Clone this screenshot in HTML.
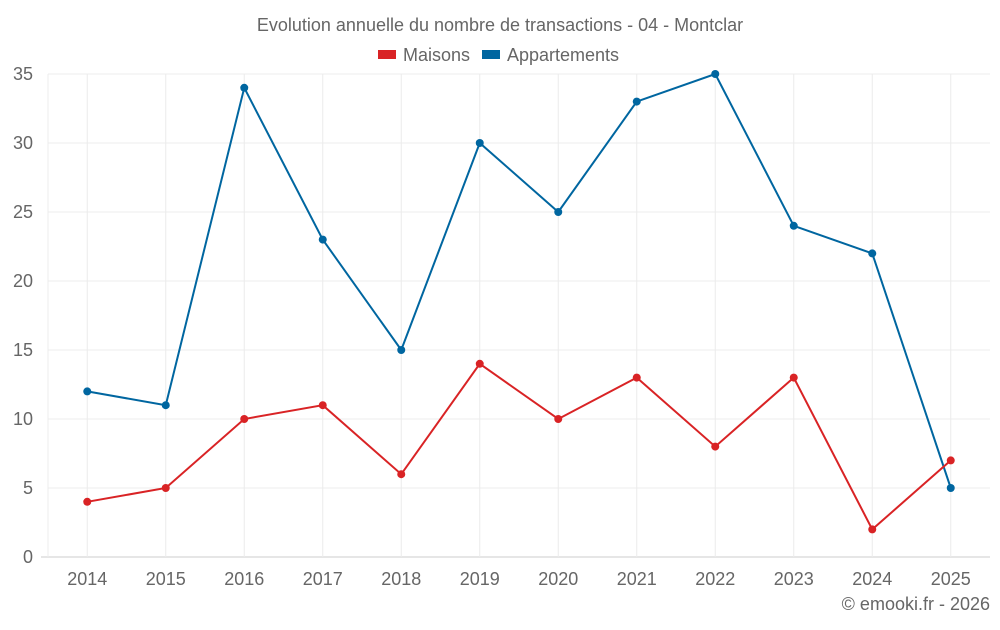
<!DOCTYPE html>
<html><head><meta charset="utf-8"><style>
body{margin:0;background:#fff;}
svg text{font-family:"Liberation Sans",sans-serif;fill:#666;}
</style></head><body>
<svg id="chart" width="1000" height="625" xmlns="http://www.w3.org/2000/svg">
<text x="500" y="31" text-anchor="middle" font-size="18">Evolution annuelle du nombre de transactions - 04 - Montclar</text>
<g>
<g><rect x="378" y="50" width="18" height="9" fill="#d92325"/><text x="403" y="61" font-size="18">Maisons</text></g>
<g><rect x="482" y="50" width="18" height="9" fill="#0066a0"/><text x="507" y="61" font-size="18">Appartements</text></g>
</g>
<g id="grid"></g><g id="axes"></g><g id="series"></g>
<text x="990" y="610" text-anchor="end" font-size="18">© emooki.fr - 2026</text>
</svg>
<script>
const categories=["2014","2015","2016","2017","2018","2019","2020","2021","2022","2023","2024","2025"];
const maisons=[4,5,10,11,6,14,10,13,8,13,2,7];
const appartements=[12,11,34,23,15,30,25,33,35,24,22,5];
const yTicks=[0,5,10,15,20,25,30,35];
const NS="http://www.w3.org/2000/svg";
const L=48,R=990,T=74,B=557,yMax=35;
const bw=(R-L)/categories.length;
const x=i=>L+bw*(i+0.5);
const y=v=>B-(B-T)*v/yMax;
function mk(tag,attrs,parent){const e=document.createElementNS(NS,tag);for(const k in attrs)e.setAttribute(k,attrs[k]);document.getElementById(parent).appendChild(e);return e;}
yTicks.forEach(v=>{
 const g=mk('line',{x1:L,x2:R,y1:y(v),y2:y(v),stroke:v===0?'#ccc':'#ececec','stroke-width':1},'grid');
 
 
 const t=mk('text',{x:33,y:y(v)+6,'text-anchor':'end','font-size':18},'axes');t.textContent=v;
 
 
});
mk('line',{x1:41,x2:L,y1:B,y2:B,stroke:'#ccc'},'grid');
const ax=mk('line',{x1:L,x2:L,y1:T,y2:B,stroke:'#ececec'},'grid');


categories.forEach((c,i)=>{
 const g=mk('line',{x1:x(i),x2:x(i),y1:T,y2:B,stroke:'#ececec'},'grid');
 
 
 const t=mk('text',{x:x(i),y:585,'text-anchor':'middle','font-size':18},'axes');t.textContent=c;
 
 
});
function series(vals,color,name){
 const p=mk('polyline',{points:vals.map((v,i)=>x(i)+','+y(v)).join(' '),fill:'none',stroke:color,'stroke-width':2},'series');
 
 
 vals.forEach((v,i)=>{
  const c=mk('circle',{cx:x(i),cy:y(v),r:4,fill:color},'series');
  
  
 });
}
series(appartements,'#0066a0','appartements');
series(maisons,'#d92325','maisons');
</script>
</body></html>
